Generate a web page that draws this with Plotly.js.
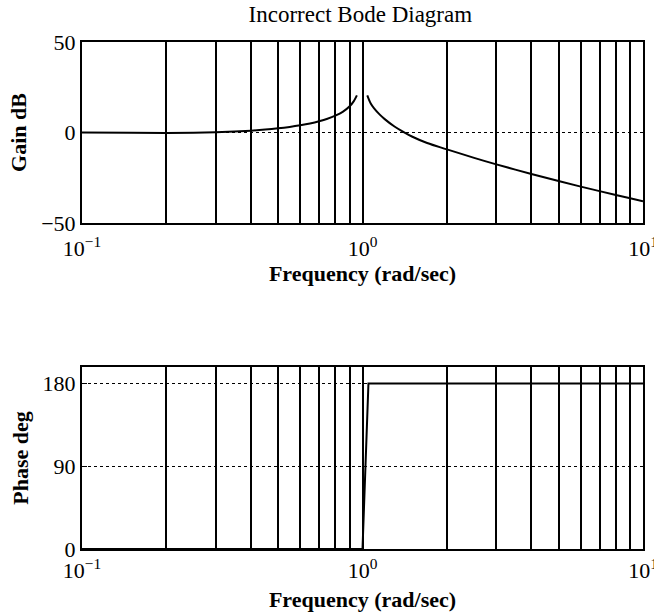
<!DOCTYPE html>
<html><head><meta charset="utf-8">
<script src="https://cdn.plot.ly/plotly-3.0.1.min.js"></script>
<style>html,body{margin:0;padding:0;background:#fff;overflow:hidden}</style>
</head><body><div id="chart" style="width:654px;height:616px"></div>
<script>
// Gain branch below resonance (rad/sec, dB)
const freqLow = [0.1, 0.15, 0.2, 0.25, 0.3, 0.35, 0.4, 0.45, 0.5, 0.55, 0.6, 0.65, 0.7, 0.75, 0.8, 0.85, 0.9, 0.93, 0.955];
const gainLow = [0.0, -0.1, -0.3, -0.2, 0.1, 0.5, 1.0, 1.6, 2.3, 3.1, 4.0, 5.0, 6.2, 7.6, 9.3, 11.4, 14.5, 17.2, 20.5];
// Gain branch above resonance
const freqHigh = [1.04, 1.07, 1.1, 1.15, 1.2, 1.3, 1.4, 1.5, 1.7, 2, 2.5, 3, 4, 5, 6, 7, 8, 9, 10];
const gainHigh = [20.5, 16.0, 13.3, 10.0, 7.4, 3.3, 0.3, -2.2, -5.8, -9.3, -14.0, -17.6, -22.9, -26.8, -29.9, -32.4, -34.5, -36.3, -38.0];
// Phase
const freqPhase = [0.1, 1.0, 1.05, 10];
const phaseDeg = [0, 0, 180, 180];
// Axis ticks
const gridFreqs = [0.1,0.2,0.3,0.4,0.5,0.6,0.7,0.8,0.9,1,2,3,4,5,6,7,8,9,10];
const freqTickText = gridFreqs.map(v => v===0.1 ? '10<sup>\u22121</sup>' : v===1 ? '10<sup>0</sup>' : v===10 ? '10<sup>1</sup>' : '');
const gainTicks = [-50, 0, 50];
const gainTickText = ['\u221250', '0', '50'];
const phaseTicks = [0, 90, 180];

const FONT = 'Liberation Serif, Times New Roman, serif';
const lineStyle = {color: '#000', width: 2};

const traces = [
  {x: freqLow, y: gainLow, xaxis: 'x', yaxis: 'y', mode: 'lines', line: Object.assign({shape: 'spline'}, lineStyle), hoverinfo: 'skip'},
  {x: freqHigh, y: gainHigh, xaxis: 'x', yaxis: 'y', mode: 'lines', line: Object.assign({shape: 'spline'}, lineStyle), hoverinfo: 'skip'},
  {x: freqPhase, y: phaseDeg, xaxis: 'x2', yaxis: 'y2', mode: 'lines', line: lineStyle, hoverinfo: 'skip', cliponaxis: false}
];

function xAxis(anchor, labelOff, titleOff) {
  return {
    type: 'log', range: [-1, 1], anchor: anchor, domain: [0, 1],
    tickmode: 'array', tickvals: gridFreqs, ticktext: freqTickText,
    showgrid: true, gridcolor: '#000', gridwidth: 2,
    showline: true, linecolor: '#000', linewidth: 2, mirror: true,
    ticks: '', zeroline: false, ticklabeloverflow: 'allow', ticklabelstandoff: labelOff,
    tickfont: {family: FONT, size: 22, color: '#000'},
    title: {text: '<b>Frequency (rad/sec)</b>', font: {family: FONT, size: 22, color: '#000'}, standoff: titleOff}
  };
}

const layout = {
  width: 654, height: 616,
  margin: {l: 82, r: 11, t: 42, b: 67},
  paper_bgcolor: '#fff', plot_bgcolor: '#fff',
  showlegend: false,
  title: {text: 'Incorrect Bode Diagram', font: {family: FONT, size: 23, color: '#000'}, x: 0.551, xanchor: 'center', y: 0.977, yanchor: 'middle'},
  xaxis: xAxis('y', 5, 0),
  xaxis2: xAxis('y2', 1, 9),
  yaxis: {
    domain: [0.643, 1], range: [-50, 50], anchor: 'x',
    tickmode: 'array', tickvals: gainTicks, ticktext: gainTickText,
    showgrid: true, gridcolor: '#000', gridwidth: 1.2, griddash: 'dot',
    showline: true, linecolor: '#000', linewidth: 2, mirror: true,
    ticks: 'inside', ticklen: 5, tickcolor: '#000', zeroline: false,
    tickfont: {family: FONT, size: 22, color: '#000'},
    title: {text: '<b>Gain dB</b>', font: {family: FONT, size: 22, color: '#000'}, standoff: 8}
  },
  yaxis2: {
    domain: [0, 0.359], range: [0, 198], anchor: 'x2',
    tickmode: 'array', tickvals: phaseTicks,
    showgrid: true, gridcolor: '#000', gridwidth: 1.2, griddash: 'dot',
    showline: true, linecolor: '#000', linewidth: 2, mirror: true,
    ticks: 'inside', ticklen: 5, tickcolor: '#000', zeroline: false,
    tickfont: {family: FONT, size: 22, color: '#000'},
    title: {text: '<b>Phase deg</b>', font: {family: FONT, size: 22, color: '#000'}, standoff: 8}
  }
};

Plotly.newPlot('chart', traces, layout, {staticPlot: true, displayModeBar: false});
</script>
</body></html>
